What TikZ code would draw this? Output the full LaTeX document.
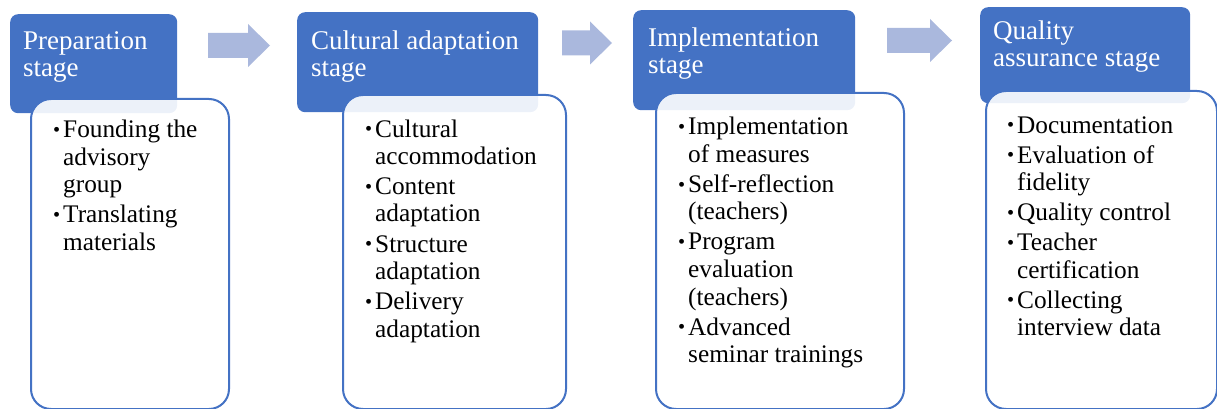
\documentclass[tikz,border=0pt]{standalone}
\usepackage{fontspec}
\setmainfont{Liberation Serif}
\usetikzlibrary{calc}
\definecolor{stageblue}{HTML}{4472C4}
\definecolor{arrowblue}{HTML}{AAB8DD}
\newcommand{\stagebullet}{\makebox[10pt][l]{\raisebox{0.04em}{\scalebox{0.8}{\textbullet}}}}
\newcommand{\stagegap}{\hspace*{10pt}}
\newcommand{\stagelines}[1]{\begin{tabular}[t]{@{}l@{}}#1\end{tabular}}
\def\blockarrow(#1,#2)(#3){\fill[arrowblue] (#1,{#2-12.5}) -- ({#1+#3-22},{#2-12.5}) -- ({#1+#3-22},{#2-21.5}) -- ({#1+#3},#2) -- ({#1+#3-22},{#2+21.5}) -- ({#1+#3-22},{#2+12.5}) -- (#1,{#2+12.5}) -- cycle;}

\tikzset{
  headbox/.style={fill=stageblue, rounded corners=8pt, anchor=north west, inner sep=0pt},
  itembox/.style={draw=stageblue, line width=2pt, fill=white, fill opacity=0.9, rounded corners=20pt, anchor=north west, inner sep=0pt},
  headtext/.style={text=white, inner sep=0pt, anchor=base west, font=\fontsize{27}{27}\selectfont},
  itemtext/.style={inner sep=0pt, anchor=base west, font=\fontsize{25.3}{27.5}\selectfont}
}

\begin{document}
\begin{tikzpicture}[x=1pt, y=-1pt]
		%%%%% START %%%%%
		\useasboundingbox (0,0) rectangle (1217,409);
		
		% preparation
		\node[headbox, minimum width=167pt, minimum height=99pt] (prephead) at (10,14) {};
		\node[headtext] (preptitle) at (23,50) {\stagelines{Preparation\\stage}};
		\node[itembox, minimum width=198pt, minimum height=310pt] (prepbox) at (30,98) {};
		\node[itemtext] (preplist) at (53,138) {\stagelines{\stagebullet Founding the\\\stagegap advisory\\\stagegap group\\[2.5pt]\stagebullet Translating\\\stagegap materials}};
		
		\blockarrow(208,45.5)(62)
		
		% cultural adaptation
		\node[headbox, minimum width=241pt, minimum height=100pt] (culthead) at (297,12) {};
		\node[headtext] (culttitle) at (311,50) {\stagelines{Cultural adaptation\\stage}};
		\node[itembox, minimum width=223pt, minimum height=314pt] (cultbox) at (342,94) {};
		\node[itemtext] (cultlist) at (365,137) {\stagelines{\stagebullet Cultural\\\stagegap accommodation\\[2.5pt]\stagebullet Content\\\stagegap adaptation\\[2.5pt]\stagebullet Structure\\\stagegap adaptation\\[2.5pt]\stagebullet Delivery\\\stagegap adaptation}};
		
		\blockarrow(562,43)(50)
		
		% implementation
		\node[headbox, minimum width=222pt, minimum height=100pt] (implhead) at (633,10) {};
		\node[headtext] (impltitle) at (648,47) {\stagelines{Implementation\\stage}};
		\node[itembox, minimum width=248pt, minimum height=316pt] (implbox) at (655,92) {};
		\node[itemtext] (impllist) at (678,135) {\stagelines{\stagebullet Implementation\\\stagegap of measures\\[2.5pt]\stagebullet Self-reflection\\\stagegap (teachers)\\[2.5pt]\stagebullet Program\\\stagegap evaluation\\\stagegap (teachers)\\[2.5pt]\stagebullet Advanced\\\stagegap seminar trainings}};
		
		\blockarrow(887,40.5)(65)
		
		% quality assurance
		\node[headbox, minimum width=210pt, minimum height=96pt] (qualhead) at (980,7) {};
		\node[headtext] (qualtitle) at (993,40) {\stagelines{Quality\\assurance stage}};
		\node[itembox, minimum width=231pt, minimum height=318pt] (qualbox) at (985,90) {};
		\node[itemtext] (quallist) at (1007,133) {\stagelines{\stagebullet Documentation\\[2.5pt]\stagebullet Evaluation of\\\stagegap fidelity\\[2.5pt]\stagebullet Quality control\\[2.5pt]\stagebullet Teacher\\\stagegap certification\\[2.5pt]\stagebullet Collecting\\\stagegap interview data}};
		%%%%% END %%%%%
\end{tikzpicture}
\end{document}
